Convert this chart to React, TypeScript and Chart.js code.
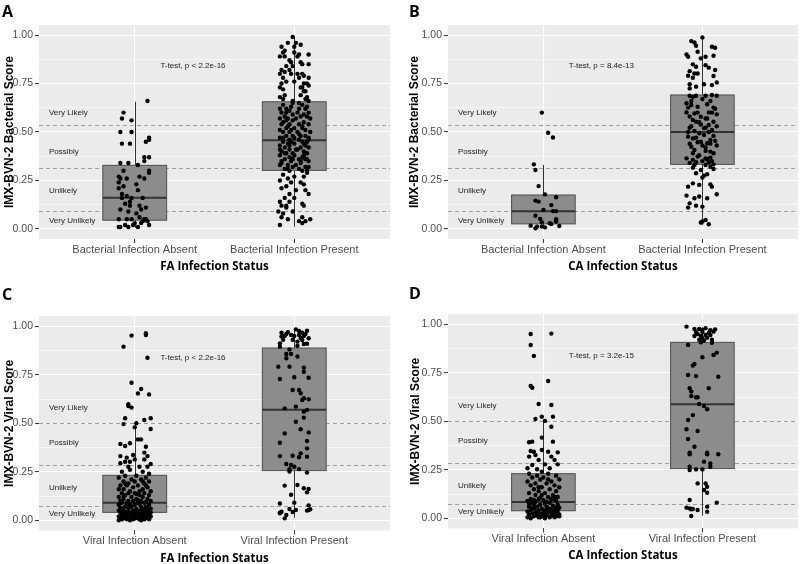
import React, { useEffect, useRef } from 'react';
import { Chart, registerables } from 'chart.js';
Chart.register(...registerables);

type Pair = [number, number]; // [jitter offset in category units, score]

// ---------------- data ----------------
const BACT_CATS = ['Bacterial Infection Absent', 'Bacterial Infection Present'];
const VIRAL_CATS = ['Viral Infection Absent', 'Viral Infection Present'];
const ZONE_LABELS = ['Very Likely', 'Possibly', 'Unlikely', 'Very Unlikely'];
const BACT_ZONE_Y = [0.598, 0.397, 0.196, 0.044];
const VIRAL_ZONE_Y = [0.578, 0.397, 0.167, 0.036];
const BACT_THRESHOLDS = [0.534, 0.316, 0.094];
const VIRAL_THRESHOLDS = [0.5, 0.287, 0.074];
const Y_GRID = [0, 0.125, 0.25, 0.375, 0.5, 0.625, 0.75, 0.875, 1];

// box stats: [lower whisker, q1, median, q3, upper whisker]
const FA_BACT_BOXES = [[0.005, 0.045, 0.161, 0.328, 0.656], [0.012, 0.302, 0.457, 0.656, 0.991]];
const CA_BACT_BOXES = [[0.003, 0.026, 0.091, 0.175, 0.33], [0.02, 0.333, 0.5, 0.691, 0.991]];
const FA_VIRAL_BOXES = [[0.0, 0.041, 0.091, 0.232, 0.507], [0.013, 0.256, 0.57, 0.888, 0.988]];
const CA_VIRAL_BOXES = [[0.0, 0.039, 0.084, 0.23, 0.502], [0.013, 0.256, 0.588, 0.907, 0.985]];

const P_TEXTS = ['T-test, p < 2.2e-16', 'T-test, p = 8.4e-13', 'T-test, p < 2.2e-16', 'T-test, p = 3.2e-15'];

const FA_BACT_ABSENT: Pair[] = [[.08,.66],[-.07,.6],[-.08,.57],[-.02,.56],[-.09,.5],[-.02,.5],[.09,.47],[.09,.46],[.07,.45],[-.08,.44],[-.03,.44],[.06,.37],[.09,.37],[.06,.35],[-.09,.34],[-.04,.34],[.02,.33],[.09,.3],[.09,.29],[-.07,.3],[-.1,.27],[-.09,.26],[.03,.27],[.06,.26],[-.05,.26],[-.1,.24],[-.1,.21],[.02,.2],[-.08,.18],[-.05,.17],[-.02,.16],[-.08,.16],[.05,.16],[-.06,.13],[-.03,.14],[-.09,.1],[.03,.12],[.07,.11],[-.04,.09],[.01,.08],[.03,.06],[-.1,.05],[-.05,.05],[-.02,.05],[.06,.05],[.07,.05],[.05,.04],[-.1,.01],[-.09,.01],[-.06,.02],[-.01,.02],[0,.03],[.02,.01],[.04,.03],[.09,.02],[.08,.04],[-.04,.01],[-.07,.22],[.01,.23],[-.03,.12],[.04,.1]];

const FA_BACT_PRESENT: Pair[] = [[-.01,.99],[-.04,.96],[.01,.96],[.04,.95],[0,.94],[-.08,.94],[-.06,.92],[-.07,.91],[0,.91],[.03,.9],[.09,.9],[-.09,.89],[-.06,.89],[.02,.89],[-.03,.87],[-.02,.86],[.04,.86],[.05,.85],[.09,.85],[-.05,.84],[-.01,.84],[-.08,.82],[-.03,.82],[-.06,.81],[-.09,.8],[-.02,.8],[.02,.8],[.05,.8],[-.07,.78],[.03,.78],[.06,.79],[.09,.78],[-.08,.75],[-.05,.76],[0,.76],[.06,.75],[.08,.75],[.09,.74],[-.09,.73],[.05,.73],[-.07,.72],[.04,.73],[.06,.71],[.07,.71],[-.06,.69],[.04,.69],[.08,.68],[-.09,.68],[-.07,.67],[.07,.67],[.09,.66],
[-.07,.64],[-.01,.65],[.05,.64],[.08,.63],[-.09,.62],[-.05,.62],[.03,.62],[-.03,.61],[.09,.6],[-.08,.6],[-.01,.59],[.06,.59],[-.06,.58],[.04,.58],[-.09,.57],[-.04,.57],[.01,.57],[.08,.58],[.1,.57],[-.07,.55],[-.01,.56],[.06,.55],[-.08,.54],[-.03,.54],[.03,.54],[.09,.54],[-.05,.52],[0,.52],[.05,.52],[-.09,.51],[.07,.51],[-.03,.5],[.02,.5],[-.07,.5],[.1,.5],[.04,.48],[-.05,.48],[-.01,.48],[.07,.48],[-.09,.47],[-.03,.46],[.03,.46],[-.07,.45],[.05,.45],[.09,.46],[-.04,.44],[0,.44],[.07,.43],[-.09,.43],[-.06,.42],[.04,.42],[.09,.42],[-.03,.41],[.01,.41],[-.08,.4],[.06,.4],[-.05,.39],[-.01,.39],[.08,.39],[-.09,.38],[-.03,.37],[.05,.37],[.03,.36],[-.06,.36],[.07,.36],[-.02,.35],[.09,.35],[-.08,.34],[-.04,.33],[.04,.34],[-.01,.32],[.07,.32],[-.09,.33],[.08,.3],[.03,.31],[-.06,.31],
[-.02,.63],[.02,.6],[-.05,.56],[.05,.53],[-.02,.51],[.03,.49],[-.07,.47],[.08,.45],[-.03,.43],[.02,.41],[-.06,.39],[.06,.38],[-.01,.36],[.04,.35],[-.08,.35],[.01,.33],[-.04,.31],[.09,.32],[-.02,.45],[.06,.44],[-.09,.41],[0,.38],[.08,.36],[-.05,.6],[.07,.62],[-.01,.66],[.03,.65],[-.04,.53],[0,.47],[.09,.47],
[-.03,.3],[.05,.3],[.08,.29],[-.07,.28],[0,.27],[.06,.27],[-.04,.26],[-.09,.25],[.04,.24],[-.02,.24],[.06,.23],[-.05,.22],[-.08,.21],[.01,.2],[.07,.2],[-.03,.18],[.09,.18],[-.06,.16],[0,.16],[-.09,.14],[-.03,.14],[.05,.13],[-.08,.12],[-.05,.11],[.06,.12],[-.1,.09],[-.07,.08],[-.01,.09],[-.08,.06],[.05,.06],[-.04,.05],[-.09,.02],[.03,.04],[.05,.03],[.07,.04],[.1,.05],[-.05,.12]];

const CA_BACT_ABSENT: Pair[] = [[-.01,.6],[.03,.496],[.06,.472],[-.06,.333],[-.05,.304],[-.03,.221],[.01,.178],[.08,.163],[-.05,.146],[-.03,.141],[.05,.123],[0,.098],[.06,.092],[.08,.092],[-.05,.068],[-.02,.051],[.08,.05],[.08,.038],[-.01,.034],[.05,.026],[-.08,.017],[-.04,.012],[-.05,.003],[-.01,.012],[.01,.008],[.1,.015],[.04,.029]];

const CA_BACT_PRESENT: Pair[] = [[0,.988],[-.07,.969],[-.05,.962],[-.04,.945],[.06,.94],[.08,.935],[-.03,.914],[-.1,.9],[-.09,.888],[.02,.888],[-.01,.88],[.07,.893],[-.06,.849],[-.04,.837],[.02,.845],[.04,.832],[-.08,.814],[-.05,.802],[-.03,.802],[.08,.82],[-.09,.79],[-.06,.78],[.07,.789],[.01,.746],[.06,.742],[.09,.756],[-.08,.746],[-.04,.734],[-.08,.725],
[-.08,.687],[-.06,.682],[-.04,.687],[.02,.687],[.06,.691],[.09,.687],[-.1,.648],[-.07,.639],[.03,.643],[-.09,.626],[.07,.626],[-.1,.601],[-.05,.596],[.04,.601],[.09,.591],[-.01,.579],[.02,.57],[-.06,.562],[.07,.553],[-.04,.553],[-.01,.539],[.04,.536],[-.08,.522],[.02,.522],[-.05,.505],[-.02,.493],[.06,.51],[.01,.485],[-.09,.476],[-.06,.467],[.05,.459],[.08,.454],[-.03,.447],[.03,.442],[-.07,.424],[0,.43],[-.05,.407],[.02,.402],[.05,.399],[-.1,.364],[-.06,.356],[-.03,.373],[.02,.364],[.05,.368],[-.04,.344],[.04,.344],[.07,.333],
[-.07,.66],[0,.67],[.05,.66],[-.03,.63],[.08,.62],[-.08,.58],[.03,.57],[-.02,.55],[.09,.53],[-.09,.5],[.04,.5],[-.04,.47],[.07,.48],[-.01,.45],[.09,.43],[-.08,.44],[.02,.42],[-.06,.39],[.07,.39],[-.02,.38],[0,.35],[-.08,.34],[.06,.35],[-.05,.33],[.03,.36],[-.03,.6],[.06,.6],[-.07,.53],[.01,.52],[.05,.44],
[.02,.33],[.05,.321],[-.06,.316],[-.01,.304],[.07,.309],[-.04,.287],[.03,.282],[0,.265],[.01,.275],[-.06,.235],[.05,.23],[-.09,.218],[-.02,.227],[.06,.218],[-.1,.172],[-.05,.158],[-.02,.167],[.03,.158],[.09,.179],[-.08,.132],[-.04,.12],[-.09,.11],[0,.115],[0,.038],[.02,.046],[.04,.024],[-.01,.033]];

const FA_VIRAL_ABSENT: Pair[] = [[-.02,.952],[.07,.955],[.07,.964],[-.07,.895],[.08,.838],[-.02,.709],[.04,.677],[.02,.654],[.09,.649],[-.04,.598],[-.04,.589],[-.02,.581],[-.06,.526],[-.07,.496],[.01,.5],[.06,.517],[.1,.526],[.1,.471],[0,.479],
[-.09,.393],[-.06,.383],[-.03,.397],[.02,.417],[.04,.417],[.07,.379],[-.09,.331],[-.05,.323],[-.01,.337],[.06,.349],[.08,.331],[-.09,.294],[-.06,.302],[-.03,.302],[0,.314],[.06,.314],[.1,.29],[-.04,.276],[.03,.276],[.08,.276],
[-.08,.25],[-.03,.26],[.05,.25],[.09,.24],[-.06,.23],[.01,.23],[.07,.22],[-.1,.22],[-.02,.21],[.04,.21],[-.07,.2],[.09,.2],[0,.2],[-.04,.19],[.06,.19],
[-.09,.18],[-.05,.18],[.02,.18],[.08,.17],[-.01,.17],[.05,.16],[-.07,.16],[-.03,.15],[.1,.15],[.03,.15],[-.1,.16],[.07,.18],
[-.08,.14],[-.04,.14],[0,.14],[.06,.14],[.09,.13],[-.06,.13],[.03,.13],[-.1,.12],[-.02,.12],[.05,.12],[.08,.11],[-.07,.11],[.01,.11],[-.04,.1],[.04,.1],[.1,.1],[-.09,.1],[-.01,.1],
[-.08,.09],[-.05,.09],[.02,.09],[.06,.09],[.09,.08],[-.03,.08],[0,.08],[-.1,.08],[.04,.07],[-.06,.07],[.07,.07],[-.02,.07],[-.08,.06],[.01,.06],[.05,.06],[.1,.06],[-.04,.06],[-.07,.05],[.03,.05],[.08,.05],[-.01,.05],[-.1,.05],[.06,.05],
[-.09,.04],[-.06,.04],[-.03,.04],[0,.04],[.02,.04],[.05,.04],[.08,.04],[.1,.04],[-.08,.03],[-.05,.03],[-.01,.03],[.03,.03],[.06,.03],[.09,.03],[-.1,.02],[-.07,.02],[-.04,.02],[-.02,.02],[.01,.02],[.04,.02],[.07,.02],[.1,.02],[-.09,.01],[-.06,.01],[-.03,.01],[0,.01],[.02,.01],[.05,.01],[.08,.01],[-.08,.005],[-.05,.005],[-.01,.005],[.03,.005],[.06,.005],[.09,.005],[-.1,0],[-.03,0],[.04,0],[.07,.015],[-.06,.025],[0,.025],[.05,.025],
[-.07,.12],[.02,.105],[.07,.095],[-.05,.075],[.03,.085],[-.09,.065],[.08,.065],[-.02,.035],[.04,.035],[-.07,.035],[.09,.015],[-.04,.045],[.01,.135],[-.06,.19],[.05,.2]];

const FA_VIRAL_PRESENT: Pair[] = [[.01,.984],[.03,.976],[.05,.967],[.08,.977],[-.08,.967],[-.02,.955],[-.08,.947],[-.06,.95],[.03,.955],[.09,.938],[.05,.929],[.02,.921],[-.09,.912],[.06,.909],[-.09,.895],[-.03,.881],[-.05,.857],[-.02,.857],[.02,.844],[-.05,.835],[-.1,.792],[-.03,.792],[.06,.787],[.06,.766],[0,.737],[-.09,.728],[.09,.735],[-.01,.672],[.03,.672],[.04,.655],[.06,.629],[.05,.62],[.09,.624],[-.06,.577],[.01,.586],[.06,.56],[.08,.569],[.06,.529],[.01,.508],[.04,.469],[-.06,.448],[.09,.453],[-.09,.4],[.08,.409],[.08,.371],[-.09,.331],[-.01,.333],[.04,.345],[.03,.325],[.08,.328],[-.05,.29],[-.02,.285],[0,.276],[-.03,.263],[.03,.264],[-.03,.251],[.08,.246],[-.06,.179],[.02,.182],[.06,.165],[.09,.161],[.08,.144],[-.02,.132],[0,.091],[-.09,.087],[-.03,.058],[-.01,.043],[.01,.053],[.08,.05],[.1,.057],[.09,.053],[-.08,.044],[-.09,.036],[-.05,.027],[-.06,.01],[-.09,.039],[.09,.077],
[-.05,.96],[0,.95],[.07,.96],[-.07,.93],[.04,.94],[-.04,.97],[.08,.91],[.02,.9],[-.01,.93],[.06,.95]];

const CA_VIRAL_ABSENT: Pair[] = [[-.08,.95],[.05,.952],[-.08,.893],[-.06,.837],[.03,.708],[-.08,.682],[-.07,.673],[-.03,.589],[.05,.584],[-.01,.524],[-.05,.512],[.06,.524],[.01,.502],[.05,.472],[-.01,.416],[-.09,.392],[-.07,.395],[.06,.395],[-.08,.347],[-.06,.343],[-.01,.352],[.03,.343],[.09,.34],[-.09,.318],[-.05,.326],[.05,.318],[-.03,.301],[.07,.301],[-.07,.275],[.01,.278],[.09,.278],[-.1,.258],[-.04,.253],[.04,.258],[-.01,.24],
[-.09,.23],[-.04,.22],[.03,.23],[.08,.22],[-.07,.21],[0,.21],[.1,.2],[-.02,.2],[.05,.19],[-.1,.19],[-.05,.18],[.02,.18],[.07,.17],[-.08,.17],[.1,.16],[-.01,.16],[.04,.15],[-.06,.15],[-.03,.14],[.08,.14],[.01,.13],[-.09,.13],[.06,.12],[-.05,.12],[-.01,.12],[.09,.11],[.03,.11],[-.08,.1],[-.03,.1],[.06,.1],[0,.095],[-.1,.09],[.08,.09],[-.05,.085],[.04,.08],[-.07,.08],[.01,.075],[-.02,.07],[.09,.07],[.06,.065],[-.09,.06],[-.04,.06],[.02,.06],[.1,.055],[-.06,.05],[.04,.05],[-.01,.05],[.07,.045],[-.08,.04],[-.03,.04],[.01,.04],[.09,.04],[-.1,.035],[.05,.035],[-.05,.03],[0,.03],[.03,.03],[.08,.03],[-.07,.025],[-.02,.025],[.06,.02],[.1,.02],[-.09,.02],[-.04,.015],[.02,.015],[.05,.015],[-.06,.01],[0,.01],[.08,.01],[-.1,.005],[-.03,.005],[.04,.005],[.07,.005],[-.08,0],[.01,0],[.1,.01],[-.01,.02],[.03,.045],[-.06,.07],[.07,.11],[-.03,.16],[.03,.2],
[-.07,.055],[.02,.085],[-.02,.105],[.05,.1],[-.09,.075],[.08,.055],[-.04,.035],[.06,.04],[-.06,.095],[.01,.025],[-.02,.005],[.09,.025]];

const CA_VIRAL_PRESENT: Pair[] = [[-.1,.988],[-.05,.976],[-.02,.976],[0,.97],[.08,.974],[.07,.962],[.04,.957],[-.03,.95],[-.01,.94],[.02,.945],[.05,.945],[0,.928],[.01,.916],[-.01,.907],[.06,.905],[-.09,.893],[.09,.854],[.07,.842],[0,.83],[-.05,.795],[-.06,.787],[-.09,.739],[-.04,.733],[.1,.73],[-.08,.67],[-.07,.653],[.04,.67],[-.07,.63],[-.04,.624],[-.03,.624],[-.02,.589],[.01,.579],[.03,.562],[-.06,.532],[-.09,.507],[-.1,.459],[-.03,.45],[-.09,.409],[-.05,.369],[-.08,.338],[-.08,.33],[.03,.33],[.03,.338],[.1,.33],[.01,.292],[.05,.283],[.05,.266],[-.08,.266],[-.08,.249],[-.04,.252],[0,.252],[-.03,.18],[.02,.18],[.03,.163],[.01,.146],[.03,.132],[-.08,.094],[.09,.081],[-.1,.055],[-.08,.051],[-.07,.046],[-.06,.048],[-.03,.043],[.03,.06],[.03,.034],[-.07,.012],
[-.04,.96],[0,.96],[.03,.93],[-.02,.92],[.05,.97],[.06,.92],[-.05,.94],[.02,.98]];

// ---------------- style / layout constants ----------------
const BOX_HALF = 0.2;
const ZONE_X = 0.4625;
const PTEXT_X = 1.365;
const PTEXT_Y = 0.84;
const W = 400;
const H = 282;

interface PanelCfg {
  letter: string;
  left: number;
  top: number;
  area: { l: number; r: number; t: number; b: number };
  yTitle: string;
  xTitle: string;
  cats: string[];
  boxes: number[][];
  groups: Pair[][];
  thresholds: number[];
  zoneY: number[];
  pText: string;
  yTitlePad: number;
  xTitlePad: number;
  letterPos: [number, number];
}

const PANELS: PanelCfg[] = [
  { letter: 'A', left: 0, top: 0, area: { l: 39, r: 390, t: 25, b: 239 }, yTitle: 'IMX-BVN-2 Bacterial Score', xTitle: 'FA Infection Status', cats: BACT_CATS, boxes: FA_BACT_BOXES, groups: [FA_BACT_ABSENT, FA_BACT_PRESENT], thresholds: BACT_THRESHOLDS, zoneY: BACT_ZONE_Y, pText: P_TEXTS[0], yTitlePad: 2, xTitlePad: 9.2, letterPos: [2, 0] },
  { letter: 'B', left: 400, top: 0, area: { l: 48, r: 400, t: 25, b: 239 }, yTitle: 'IMX-BVN-2 Bacterial Score', xTitle: 'CA Infection Status', cats: BACT_CATS, boxes: CA_BACT_BOXES, groups: [CA_BACT_ABSENT, CA_BACT_PRESENT], thresholds: BACT_THRESHOLDS, zoneY: BACT_ZONE_Y, pText: P_TEXTS[1], yTitlePad: 7, xTitlePad: 9.5, letterPos: [409, 0] },
  { letter: 'C', left: 0, top: 282, area: { l: 39, r: 390, t: 34.2, b: 248.4 }, yTitle: 'IMX-BVN-2 Viral Score', xTitle: 'FA Infection Status', cats: VIRAL_CATS, boxes: FA_VIRAL_BOXES, groups: [FA_VIRAL_ABSENT, FA_VIRAL_PRESENT], thresholds: VIRAL_THRESHOLDS, zoneY: VIRAL_ZONE_Y, pText: P_TEXTS[2], yTitlePad: 2, xTitlePad: -0.4, letterPos: [2, 283] },
  { letter: 'D', left: 400, top: 282, area: { l: 48, r: 400, t: 32.2, b: 246.4 }, yTitle: 'IMX-BVN-2 Viral Score', xTitle: 'CA Infection Status', cats: VIRAL_CATS, boxes: CA_VIRAL_BOXES, groups: [CA_VIRAL_ABSENT, CA_VIRAL_PRESENT], thresholds: VIRAL_THRESHOLDS, zoneY: VIRAL_ZONE_Y, pText: P_TEXTS[3], yTitlePad: 8, xTitlePad: 3, letterPos: [409, 282] },
];

const isMajor = (v: number) => Math.abs(v * 4 - Math.round(v * 4)) < 1e-6;

function makeDecor(cfg: PanelCfg) {
  return {
    id: 'decor' + cfg.letter,
    beforeDraw(chart: any) {
      const { ctx, chartArea: a } = chart;
      ctx.save();
      ctx.fillStyle = '#EBEBEB';
      ctx.fillRect(a.left, a.top, a.right - a.left, a.bottom - a.top);
      ctx.restore();
    },
    beforeDatasetsDraw(chart: any) {
      const { ctx, chartArea: a, scales } = chart;
      const xs = scales.x;
      const ys = scales.y;
      ctx.save();
      ctx.strokeStyle = '#9E9E9E';
      ctx.lineWidth = 1;
      ctx.setLineDash([4, 3]);
      cfg.thresholds.forEach((t) => {
        const py = Math.round(ys.getPixelForValue(t)) + 0.5;
        ctx.beginPath();
        ctx.moveTo(a.left, py);
        ctx.lineTo(a.right, py);
        ctx.stroke();
      });
      ctx.setLineDash([]);
      cfg.boxes.forEach((b, i) => {
        const c = i + 1;
        const cx = Math.round(xs.getPixelForValue(c)) + 0.5;
        const x0 = xs.getPixelForValue(c - BOX_HALF);
        const x1 = xs.getPixelForValue(c + BOX_HALF);
        const [lo, q1, med, q3, hi] = b.map((v) => ys.getPixelForValue(v));
        ctx.strokeStyle = '#333333';
        ctx.lineWidth = 1;
        ctx.beginPath();
        ctx.moveTo(cx, q3);
        ctx.lineTo(cx, hi);
        ctx.moveTo(cx, q1);
        ctx.lineTo(cx, lo);
        ctx.stroke();
        ctx.fillStyle = '#8C8C8C';
        ctx.fillRect(x0, q3, x1 - x0, q1 - q3);
        ctx.strokeStyle = '#4D4D4D';
        ctx.strokeRect(x0, q3, x1 - x0, q1 - q3);
        ctx.strokeStyle = '#333333';
        ctx.lineWidth = 2;
        ctx.beginPath();
        ctx.moveTo(x0, med);
        ctx.lineTo(x1, med);
        ctx.stroke();
      });
      ctx.fillStyle = '#222222';
      ctx.font = '8px "Liberation Sans", Arial, sans-serif';
      ctx.textBaseline = 'middle';
      ctx.textAlign = 'left';
      ZONE_LABELS.forEach((lab, i) => {
        ctx.fillText(lab, xs.getPixelForValue(ZONE_X), ys.getPixelForValue(cfg.zoneY[i]));
      });
      ctx.textAlign = 'center';
      ctx.fillText(cfg.pText, xs.getPixelForValue(PTEXT_X), ys.getPixelForValue(PTEXT_Y));
      ctx.restore();
    },
  };
}

function Panel({ cfg }: { cfg: PanelCfg }) {
  const ref = useRef<HTMLCanvasElement>(null);
  useEffect(() => {
    const canvas = ref.current;
    if (!canvas) return;
    const pts = cfg.groups.flatMap((g, i) => g.map(([j, s]) => ({ x: i + 1 + j, y: s })));
    const chart = new Chart(canvas, {
      type: 'scatter',
      data: {
        datasets: [
          {
            data: pts,
            pointRadius: 2.2,
            pointHoverRadius: 2.2,
            backgroundColor: '#000000',
            borderColor: '#000000',
            borderWidth: 0,
          },
        ],
      },
      options: {
        responsive: false,
        animation: false,
        devicePixelRatio: 1,
        events: [],
        layout: { padding: { top: cfg.area.t, right: W - cfg.area.r, left: 0, bottom: 0 } },
        plugins: { legend: { display: false }, tooltip: { enabled: false } },
        scales: {
          x: {
            type: 'linear',
            min: 0.4,
            max: 2.6,
            bounds: 'data',
            afterBuildTicks: (s: any) => {
              s.ticks = [{ value: 1 }, { value: 2 }];
            },
            afterFit: (s: any) => {
              s.height = H - cfg.area.b;
            },
            border: { display: false },
            grid: { color: '#FFFFFF', lineWidth: 1.1, tickLength: 4, tickColor: '#333333', tickWidth: 1 },
            ticks: {
              autoSkip: false,
              maxRotation: 0,
              padding: 0,
              color: '#4D4D4D',
              font: { family: '"Liberation Sans", Arial, sans-serif', size: 11 },
              callback: (v: any) => cfg.cats[Math.round(Number(v)) - 1] ?? '',
            },
            title: {
              display: true,
              text: cfg.xTitle,
              color: '#000000',
              font: { family: '"Open Sans", sans-serif', size: 11.5, weight: 'bold', lineHeight: 1 },
              padding: { top: 0, bottom: cfg.xTitlePad },
            },
          },
          y: {
            type: 'linear',
            min: -0.052,
            max: 1.052,
            bounds: 'data',
            afterBuildTicks: (s: any) => {
              s.ticks = Y_GRID.map((v) => ({ value: v }));
            },
            afterFit: (s: any) => {
              s.width = cfg.area.l;
            },
            border: { display: false },
            grid: {
              color: '#FFFFFF',
              lineWidth: (c: any) => (c.tick && isMajor(c.tick.value) ? 1.1 : 0.5),
              tickLength: 4,
              tickWidth: 1,
              tickColor: (c: any) => (c.tick && isMajor(c.tick.value) ? '#333333' : 'rgba(0,0,0,0)'),
            },
            ticks: {
              autoSkip: false,
              padding: 2,
              color: '#4D4D4D',
              font: { family: '"Liberation Sans", Arial, sans-serif', size: 10.5 },
              callback: (v: any) => (isMajor(Number(v)) ? Number(v).toFixed(2) : ''),
            },
            title: {
              display: true,
              text: cfg.yTitle,
              color: '#000000',
              font: { family: '"Liberation Sans", Arial, sans-serif', size: 12, weight: 'bold', lineHeight: 1.2 },
              padding: { top: cfg.yTitlePad, bottom: 0 },
            },
          },
        },
      },
      plugins: [makeDecor(cfg)],
    } as any);
    return () => chart.destroy();
  }, [cfg]);
  return (
    <canvas
      ref={ref}
      width={W}
      height={H}
      style={{ position: 'absolute', left: cfg.left, top: cfg.top, width: W, height: H }}
    />
  );
}

export default function App() {
  return (
    <div style={{ position: 'absolute', left: 0, top: 0, width: 800, height: 564, background: '#FFFFFF', overflow: 'hidden' }}>
      {PANELS.map((p) => (
        <Panel key={p.letter} cfg={p} />
      ))}
      {PANELS.map((p) => (
        <div
          key={'l' + p.letter}
          style={{
            position: 'absolute',
            left: p.letterPos[0],
            top: p.letterPos[1],
            font: 'bold 16px "Open Sans", sans-serif',
            lineHeight: 'normal',
            color: '#000',
          }}
        >
          {p.letter}
        </div>
      ))}
    </div>
  );
}
